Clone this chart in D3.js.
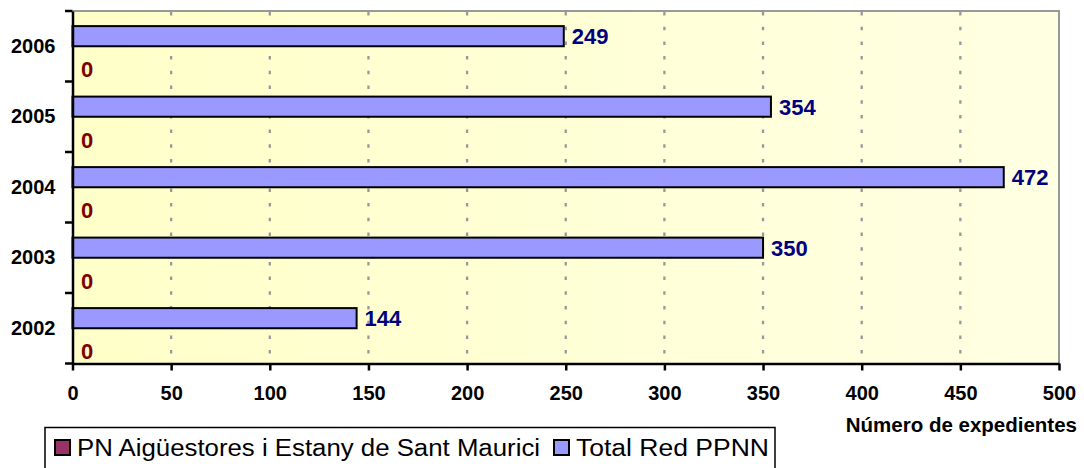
<!DOCTYPE html>
<html>
<head>
<meta charset="utf-8">
<script src="https://cdn.jsdelivr.net/npm/d3@7"></script>
<style>
  body { margin: 0; background: #ffffff; }
  svg { display: block; }
  text { font-family: "Liberation Sans", Arial, sans-serif; }
</style>
</head>
<body>
<svg id="chart" width="1084" height="468"></svg>
<script>
const categories = ["2002", "2003", "2004", "2005", "2006"];
const seriesNames = ["PN Aigüestores i Estany de Sant Maurici", "Total Red PPNN"];
const pnValues = [0, 0, 0, 0, 0];
const totalValues = [144, 350, 472, 354, 249];
const xTickValues = [0, 50, 100, 150, 200, 250, 300, 350, 400, 450, 500];
const xAxisTitle = "Número de expedientes";

const seriesColors = ["#993366", "#9999FF"];
const labelColors = ["#800000", "#000080"];

const svg = d3.select("#chart");
const plot = { left: 72.5, right: 1059, top: 11, bottom: 363.5 };

const x = d3.scaleLinear().domain([0, 500]).range([plot.left, plot.right]);
const y = d3.scaleBand().domain(categories.slice().reverse()).range([plot.top, plot.bottom]).padding(0);
const ySeries = d3.scaleBand().domain(["total", "pn"]).range([0, y.bandwidth()]).paddingInner(0).paddingOuter(0.75);

// background gradient
const defs = svg.append("defs");
const grad = defs.append("linearGradient").attr("id", "bg").attr("x1", "0").attr("x2", "1").attr("y1", "0").attr("y2", "0");
grad.append("stop").attr("offset", "0").attr("stop-color", "#FFFFC9");
grad.append("stop").attr("offset", "1").attr("stop-color", "#FFFFE3");

svg.append("rect")
  .attr("x", plot.left).attr("y", plot.top)
  .attr("width", plot.right - plot.left).attr("height", plot.bottom - plot.top)
  .attr("fill", "url(#bg)");

// gridlines
svg.append("g").selectAll("line")
  .data(xTickValues.filter(v => v > 0 && v < 500))
  .join("line")
  .attr("x1", d => x(d)).attr("x2", d => x(d))
  .attr("y1", plot.top + 1).attr("y2", plot.bottom)
  .attr("stroke", "#999999").attr("stroke-width", 2.3)
  .attr("stroke-dasharray", "3.5,11.2");

// plot border (top / right)
svg.append("path")
  .attr("d", `M${plot.left},${plot.top}H${plot.right}V${plot.bottom}`)
  .attr("fill", "none").attr("stroke", "#999999").attr("stroke-width", 2);

const rows = categories.map((c, i) => ({ cat: c, pn: pnValues[i], total: totalValues[i] }));

// bars
const g = svg.append("g");
g.selectAll("rect.total").data(rows).join("rect")
  .attr("class", "total")
  .attr("x", x(0))
  .attr("y", d => y(d.cat) + ySeries("total"))
  .attr("width", d => x(d.total) - x(0))
  .attr("height", ySeries.bandwidth())
  .attr("fill", seriesColors[1]).attr("stroke", "#000").attr("stroke-width", 2);

g.selectAll("rect.pn").data(rows).join("rect")
  .attr("class", "pn")
  .attr("x", x(0))
  .attr("y", d => y(d.cat) + ySeries("pn"))
  .attr("width", d => x(d.pn) - x(0))
  .attr("height", ySeries.bandwidth())
  .attr("fill", seriesColors[0]);

// value labels
g.selectAll("text.tl").data(rows).join("text")
  .attr("class", "tl")
  .attr("x", d => x(d.total) + 8)
  .attr("y", d => y(d.cat) + ySeries("total") + ySeries.bandwidth() / 2)
  .attr("dy", "0.36em")
  .attr("fill", labelColors[1])
  .attr("font-weight", "bold").attr("font-size", 22)
  .text(d => d.total);

g.selectAll("text.pl").data(rows).join("text")
  .attr("class", "pl")
  .attr("x", d => x(d.pn) + 8.5)
  .attr("y", d => y(d.cat) + ySeries("pn") + ySeries.bandwidth() / 2 + 13)
  .attr("dy", "0.36em")
  .attr("fill", labelColors[0])
  .attr("font-weight", "bold").attr("font-size", 22)
  .text(d => d.pn);

// x axis
const xAxis = svg.append("g")
  .attr("transform", `translate(0,${plot.bottom})`)
  .call(d3.axisBottom(x).tickValues(xTickValues).tickSize(7).tickPadding(15).tickSizeOuter(0));
xAxis.select(".domain").attr("stroke", "#000").attr("stroke-width", 2.5);
xAxis.selectAll(".tick line").attr("stroke", "#000").attr("stroke-width", 2.5);
xAxis.selectAll(".tick text")
  .attr("fill", "#000").attr("font-size", 20).attr("font-weight", "bold")
  .attr("font-family", "'Liberation Sans', Arial, sans-serif");

// y axis
const yAxis = svg.append("g")
  .attr("transform", `translate(${plot.left},0)`)
  .call(d3.axisLeft(y).tickSize(0).tickPadding(17).tickSizeOuter(0));
yAxis.select(".domain").attr("stroke", "#000").attr("stroke-width", 2.5);
yAxis.selectAll(".tick text")
  .attr("fill", "#000").attr("font-size", 20).attr("font-weight", "bold")
  .attr("font-family", "'Liberation Sans', Arial, sans-serif");

// y boundary ticks
const bounds = categories.map(c => y(c)).concat([plot.bottom]);
svg.append("g").selectAll("line").data(bounds).join("line")
  .attr("x1", plot.left - 7.5).attr("x2", plot.left)
  .attr("y1", d => d).attr("y2", d => d)
  .attr("stroke", "#000").attr("stroke-width", 2.5);

// axis title
svg.append("text")
  .attr("x", 1077).attr("y", 432)
  .attr("text-anchor", "end")
  .attr("font-weight", "bold").attr("font-size", 20.5)
  .text(xAxisTitle);

// legend
const legend = svg.append("g");
legend.append("rect")
  .attr("x", 45).attr("y", 427.5).attr("width", 730).attr("height", 50)
  .attr("fill", "#fff").attr("stroke", "#000").attr("stroke-width", 1.5);
const legItems = [
  { name: seriesNames[0], color: seriesColors[0], mx: 55, tx: 77, w: 463 },
  { name: seriesNames[1], color: seriesColors[1], mx: 554, tx: 576, w: 193 }
];
legItems.forEach(it => {
  legend.append("rect")
    .attr("x", it.mx).attr("y", 440).attr("width", 15).attr("height", 15)
    .attr("fill", it.color).attr("stroke", "#000").attr("stroke-width", 2);
  legend.append("text")
    .attr("x", it.tx).attr("y", 456)
    .attr("font-size", 23)
    .attr("textLength", it.w).attr("lengthAdjust", "spacingAndGlyphs")
    .attr("fill", "#000")
    .text(it.name);
});
</script>
</body>
</html>
